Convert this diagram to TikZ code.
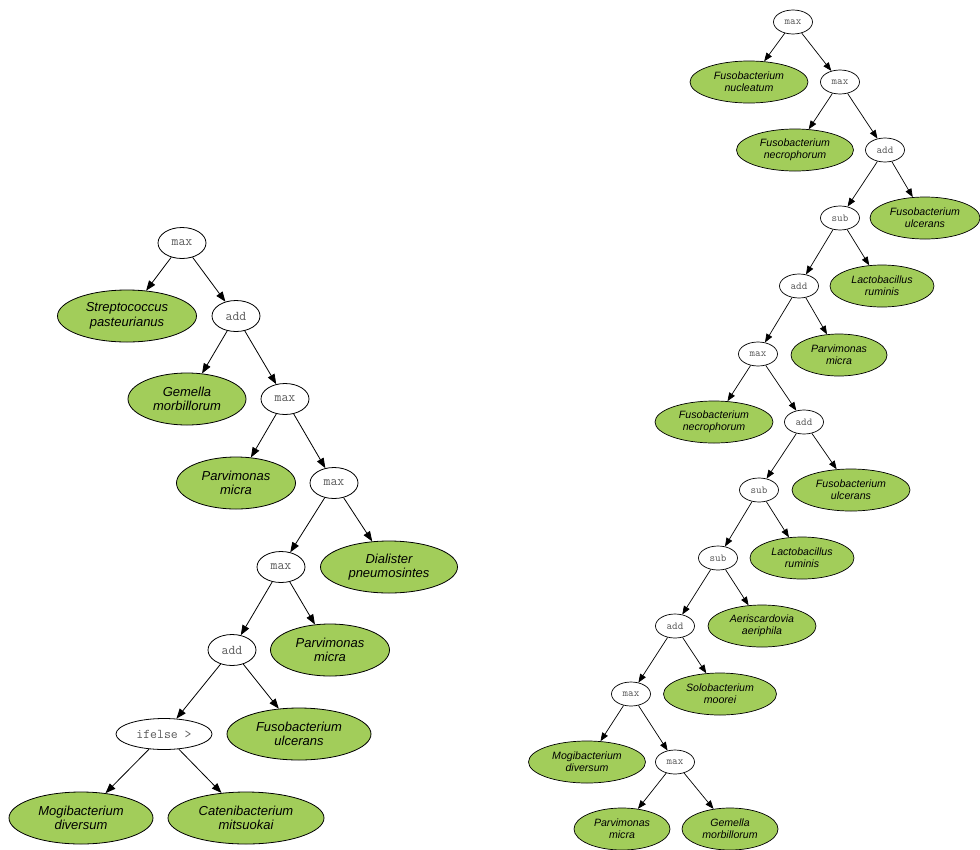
\documentclass[tikz,border=0pt]{standalone}
\usepackage{fontspec}
\setmainfont{Liberation Sans}
\usetikzlibrary{shapes.geometric,arrows.meta}
\definecolor{leafgreen}{HTML}{A2CD5A}
\definecolor{optext}{HTML}{5A5A5A}
\tikzset{
  lop/.style={ellipse, draw, line width=0.8pt, fill=white, inner sep=0pt,
    minimum width=48pt, minimum height=31pt, text=optext,
    font=\ttfamily\fontsize{13.4}{14}\selectfont},
  lleaf/.style={ellipse, draw, line width=0.8pt, fill=leafgreen, inner sep=0pt,
    minimum height=52pt, align=center,
    font=\itshape\fontsize{13}{14.5}\selectfont},
  rop/.style={ellipse, draw, line width=0.7pt, fill=white, inner sep=0pt,
    minimum width=39pt, minimum height=24pt, text=optext,
    font=\ttfamily\fontsize{10.6}{11}\selectfont},
  rleaf/.style={ellipse, draw, line width=0.7pt, fill=leafgreen, inner sep=0pt,
    minimum height=42pt, align=center,
    font=\itshape\fontsize{10.6}{11.7}\selectfont},
  ledge/.style={draw, line width=0.8pt, -{Triangle[length=10pt,width=7.5pt]}},
  redge/.style={draw, line width=0.7pt, -{Triangle[length=8.5pt,width=6.5pt]}}
}
\begin{document}
\begin{tikzpicture}[x=1pt,y=-1pt]
\useasboundingbox[fill=white] (0,0) rectangle (980,849);
% ---------------- left tree ----------------
\node[lop] (L1) at (182,243) {max};
\node[lleaf, minimum width=139pt] (L2) at (127,316) {Streptococcus\\pasteurianus};
\node[lop] (L3) at (236,316) {add};
\node[lleaf, minimum width=118pt] (L4) at (187,399) {Gemella\\morbillorum};
\node[lop] (L5) at (285,399) {max};
\node[lleaf, minimum width=119pt] (L6) at (236,483) {Parvimonas\\micra};
\node[lop] (L7) at (334,483) {max};
\node[lop] (L8) at (281,567) {max};
\node[lleaf, minimum width=137pt] (L9) at (389,567) {Dialister\\pneumosintes};
\node[lop] (L10) at (232,650) {add};
\node[lleaf, minimum width=119pt] (L11) at (330,650) {Parvimonas\\micra};
\node[lop, minimum width=96pt] (L12) at (164,734) {ifelse >};
\node[lleaf, minimum width=144pt] (L13) at (299,734) {Fusobacterium\\ulcerans};
\node[lleaf, minimum width=144pt] (L14) at (81,818) {Mogibacterium\\diversum};
\node[lleaf, minimum width=156pt] (L15) at (246,818) {Catenibacterium\\mitsuokai};
\path[ledge] (L1) -- (L2);
\path[ledge] (L1) -- (L3);
\path[ledge] (L3) -- (L4);
\path[ledge] (L3) -- (L5);
\path[ledge] (L5) -- (L6);
\path[ledge] (L5) -- (L7);
\path[ledge] (L7) -- (L8);
\path[ledge] (L7) -- (L9);
\path[ledge] (L8) -- (L10);
\path[ledge] (L8) -- (L11);
\path[ledge] (L10) -- (L12);
\path[ledge] (L10) -- (L13);
\path[ledge] (L12) -- (L14);
\path[ledge] (L12) -- (L15);
% ---------------- right tree ----------------
\node[rop] (R1) at (793,22) {max};
\node[rleaf, minimum width=118pt] (R2) at (749,82) {Fusobacterium\\nucleatum};
\node[rop] (R3) at (840,82) {max};
\node[rleaf, minimum width=117pt] (R4) at (795,150) {Fusobacterium\\necrophorum};
\node[rop] (R5) at (885,150) {add};
\node[rop] (R6) at (840,218) {sub};
\node[rleaf, minimum width=110pt] (R7) at (925,218) {Fusobacterium\\ulcerans};
\node[rop] (R8) at (799,286) {add};
\node[rleaf, minimum width=104pt] (R9) at (882,286) {Lactobacillus\\ruminis};
\node[rop] (R10) at (758,354) {max};
\node[rleaf, minimum width=96pt] (R11) at (839,355) {Parvimonas\\micra};
\node[rleaf, minimum width=118pt] (R12) at (714,422) {Fusobacterium\\necrophorum};
\node[rop] (R13) at (804,422) {add};
\node[rop] (R14) at (759,490) {sub};
\node[rleaf, minimum width=118pt] (R15) at (851,490) {Fusobacterium\\ulcerans};
\node[rop] (R16) at (718,558) {sub};
\node[rleaf, minimum width=104pt] (R17) at (802,558) {Lactobacillus\\ruminis};
\node[rop] (R18) at (675,626) {add};
\node[rleaf, minimum width=108pt] (R19) at (762,626) {Aeriscardovia\\aeriphila};
\node[rop] (R20) at (631,694) {max};
\node[rleaf, minimum width=113pt] (R21) at (720,694) {Solobacterium\\moorei};
\node[rleaf, minimum width=117pt] (R22) at (587,762) {Mogibacterium\\diversum};
\node[rop] (R23) at (675,762) {max};
\node[rleaf, minimum width=96pt] (R24) at (622,829) {Parvimonas\\micra};
\node[rleaf, minimum width=96pt] (R25) at (730,829) {Gemella\\morbillorum};
\path[redge] (R1) -- (R2);
\path[redge] (R1) -- (R3);
\path[redge] (R3) -- (R4);
\path[redge] (R3) -- (R5);
\path[redge] (R5) -- (R6);
\path[redge] (R5) -- (R7);
\path[redge] (R6) -- (R8);
\path[redge] (R6) -- (R9);
\path[redge] (R8) -- (R10);
\path[redge] (R8) -- (R11);
\path[redge] (R10) -- (R12);
\path[redge] (R10) -- (R13);
\path[redge] (R13) -- (R14);
\path[redge] (R13) -- (R15);
\path[redge] (R14) -- (R16);
\path[redge] (R14) -- (R17);
\path[redge] (R16) -- (R18);
\path[redge] (R16) -- (R19);
\path[redge] (R18) -- (R20);
\path[redge] (R18) -- (R21);
\path[redge] (R20) -- (R22);
\path[redge] (R20) -- (R23);
\path[redge] (R23) -- (R24);
\path[redge] (R23) -- (R25);
\end{tikzpicture}
\end{document}
